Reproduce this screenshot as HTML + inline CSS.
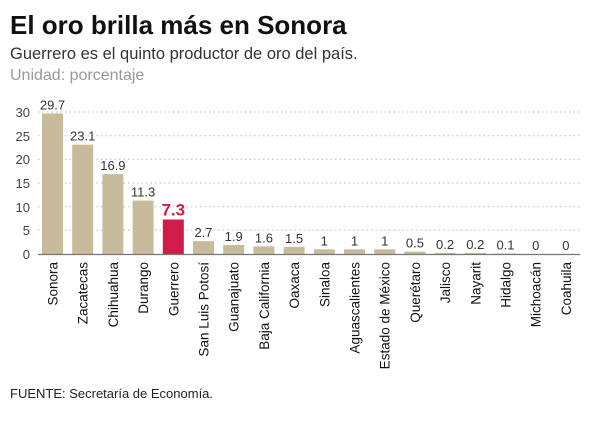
<!DOCTYPE html><html><head><meta charset="utf-8"><style>
body{margin:0;background:#fff;font-family:"Liberation Sans",sans-serif}
</style></head><body>
<svg width="600" height="424" xmlns="http://www.w3.org/2000/svg" font-family="Liberation Sans, sans-serif">
<text x="10" y="34" font-size="26" font-weight="bold" fill="#111">El oro brilla más en Sonora</text>
<text x="10" y="59" font-size="16.5" fill="#333">Guerrero es el quinto productor de oro del país.</text>
<text x="10" y="80" font-size="16" fill="#999">Unidad: porcentaje</text>
<g stroke="#bbb" stroke-dasharray="1.5,3" stroke-width="1">
<line x1="38" x2="580" y1="112" y2="112"/><line x1="38" x2="580" y1="135.7" y2="135.7"/><line x1="38" x2="580" y1="159.3" y2="159.3"/><line x1="38" x2="580" y1="183" y2="183"/><line x1="38" x2="580" y1="206.7" y2="206.7"/><line x1="38" x2="580" y1="230.3" y2="230.3"/>
</g>
<g font-size="13" fill="#444" text-anchor="end">
<text x="30" y="117">30</text><text x="30" y="141">25</text><text x="30" y="164">20</text><text x="30" y="188">15</text><text x="30" y="212">10</text><text x="30" y="235">5</text><text x="30" y="259">0</text>
</g>
<g fill="#c8bb9b">
<rect x="42" y="113.5" width="21" height="140.5"/>
<rect x="72.2" y="144.7" width="21" height="109.3"/>
<rect x="102.4" y="174.1" width="21" height="79.9"/>
<rect x="132.6" y="200.6" width="21" height="53.4"/>
<rect x="162.8" y="219.5" width="21" height="34.5" fill="#d01c48"/>
<rect x="193" y="241.2" width="21" height="12.8"/>
<rect x="223.2" y="245" width="21" height="9"/>
<rect x="253.4" y="246.4" width="21" height="7.6"/>
<rect x="283.6" y="246.9" width="21" height="7.1"/>
<rect x="313.8" y="249.3" width="21" height="4.7"/>
<rect x="344" y="249.3" width="21" height="4.7"/>
<rect x="374.2" y="249.3" width="21" height="4.7"/>
<rect x="404.4" y="251.6" width="21" height="2.4"/>
<rect x="434.6" y="253" width="21" height="1"/>
<rect x="464.8" y="253" width="21" height="1"/>
<rect x="495" y="253.5" width="21" height="0.5"/>
</g>
<line x1="38" x2="580" y1="254.5" y2="254.5" stroke="#777" stroke-width="1.2"/>
<g font-size="13" fill="#333" text-anchor="middle">
<text x="52.5" y="109.5">29.7</text>
<text x="82.7" y="140.7">23.1</text>
<text x="112.9" y="170.1">16.9</text>
<text x="143.1" y="196.6">11.3</text>
<text x="173.3" y="215.5" font-size="17" font-weight="bold" fill="#d01c48">7.3</text>
<text x="203.5" y="237.2">2.7</text>
<text x="233.7" y="241">1.9</text>
<text x="263.9" y="242.4">1.6</text>
<text x="294.1" y="242.9">1.5</text>
<text x="324.3" y="245.3">1</text>
<text x="354.5" y="245.3">1</text>
<text x="384.7" y="245.3">1</text>
<text x="414.9" y="247.6">0.5</text>
<text x="445.1" y="249">0.2</text>
<text x="475.3" y="249">0.2</text>
<text x="505.5" y="249.5">0.1</text>
<text x="535.7" y="250">0</text>
<text x="565.9" y="250">0</text>
</g>
<g font-size="13.5" fill="#111" text-anchor="end">
<text transform="translate(57.5,262) rotate(-90)">Sonora</text>
<text transform="translate(87.7,262) rotate(-90)">Zacatecas</text>
<text transform="translate(117.9,262) rotate(-90)">Chihuahua</text>
<text transform="translate(148.1,262) rotate(-90)">Durango</text>
<text transform="translate(178.3,262) rotate(-90)">Guerrero</text>
<text transform="translate(208.5,262) rotate(-90)">San Luis Potosí</text>
<text transform="translate(238.7,262) rotate(-90)">Guanajuato</text>
<text transform="translate(268.9,262) rotate(-90)">Baja California</text>
<text transform="translate(299.1,262) rotate(-90)">Oaxaca</text>
<text transform="translate(329.3,262) rotate(-90)">Sinaloa</text>
<text transform="translate(359.5,262) rotate(-90)">Aguascalientes</text>
<text transform="translate(389.7,262) rotate(-90)">Estado de México</text>
<text transform="translate(419.9,262) rotate(-90)">Querétaro</text>
<text transform="translate(450.1,262) rotate(-90)">Jalisco</text>
<text transform="translate(480.3,262) rotate(-90)">Nayarit</text>
<text transform="translate(510.5,262) rotate(-90)">Hidalgo</text>
<text transform="translate(540.7,262) rotate(-90)">Michoacán</text>
<text transform="translate(570.9,262) rotate(-90)">Coahuila</text>
</g>
<text x="10" y="398" font-size="13" fill="#222">FUENTE: Secretaría de Economía.</text>
</svg>
</body></html>
